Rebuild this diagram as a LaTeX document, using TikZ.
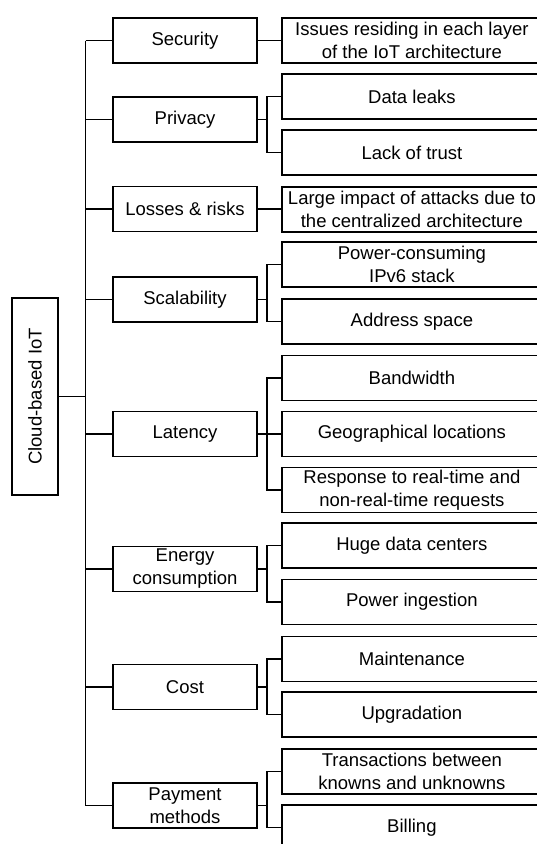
\documentclass[tikz,border=0pt]{standalone}
\usepackage{fontspec}
\setmainfont{Liberation Sans}
\begin{document}
\begin{tikzpicture}[x=1pt,y=-1pt,
  every node/.style={font=\fontsize{18.5}{23}\selectfont},
  midbox/.style={draw, line width=1.8pt, minimum width=144pt, minimum height=45pt, align=center, inner sep=0pt},
  subbox/.style={draw, line width=1.8pt, minimum width=260pt, minimum height=45pt, align=center, inner sep=0pt, anchor=west},
  conn/.style={line width=1.8pt}]
\useasboundingbox (0,0) rectangle (537,844);
\clip (0,0) rectangle (537,844);
\coordinate (tx) at (85.5,0);
\coordinate (bx) at (267,0);
% root
\node[draw, line width=1.8pt, minimum width=46pt, minimum height=197pt, inner sep=0pt] (root) at (35,396.5) {\rotatebox{90}{Cloud-based IoT}};
% middle boxes
\node[midbox] (sec) at (185,40.5) {Security};
\node[midbox] (priv) at (185,119.5) {Privacy};
\node[midbox] (loss) at (185,209) {Losses \& risks};
\node[midbox] (scal) at (185,299.5) {Scalability};
\node[midbox] (lat) at (185,434) {Latency};
\node[midbox] (ener) at (185,569) {Energy\\consumption};
\node[midbox] (cost) at (185,687) {Cost};
\node[midbox] (pay) at (185,805.5) {Payment\\methods};
% sub boxes
\node[subbox] (s1) at (281,40.5) {Issues residing in each layer\\of the IoT architecture};
\node[subbox] (p1) at (281,96.5) {Data leaks};
\node[subbox] (p2) at (281,152.5) {Lack of trust};
\node[subbox] (l1) at (281,209.5) {Large impact of attacks due to\\the centralized architecture};
\node[subbox] (c1) at (281,264.5) {Power-consuming\\IPv6 stack};
\node[subbox] (c2) at (281,321.5) {Address space};
\node[subbox] (t1) at (281,378) {Bandwidth};
\node[subbox] (t2) at (281,434) {Geographical locations};
\node[subbox] (t3) at (281,490) {Response to real-time and\\non-real-time requests};
\node[subbox] (e1) at (281,545.5) {Huge data centers};
\node[subbox] (e2) at (281,602) {Power ingestion};
\node[subbox] (k1) at (281,659) {Maintenance};
\node[subbox] (k2) at (281,714.5) {Upgradation};
\node[subbox] (y1) at (281,771.5) {Transactions between\\knowns and unknowns};
\node[subbox] (y2) at (281,827.5) {Billing};
% trunk
\draw[conn] (root.east) -- (root.east -| tx);
\draw[conn] (sec.west -| tx) -- (pay.west -| tx);
\foreach \n in {sec,priv,loss,scal,lat,ener,cost,pay}
  \draw[conn] (\n.west -| tx) -- (\n.west);
% single children
\draw[conn] (sec.east) -- (s1.west);
\draw[conn] (loss.east) -- (loss.east -| l1.west);
% brackets
\foreach \m/\a/\b in {priv/p1/p2, scal/c1/c2, lat/t1/t3, ener/e1/e2, cost/k1/k2, pay/y1/y2}{
  \draw[conn] (\m.east) -- (\m.east -| bx);
  \draw[conn] (\a.west) -- (\a.west -| bx) -- (\b.west -| bx) -- (\b.west);
}
\draw[conn] (t2.west -| bx) -- (t2.west);
\end{tikzpicture}
\end{document}
